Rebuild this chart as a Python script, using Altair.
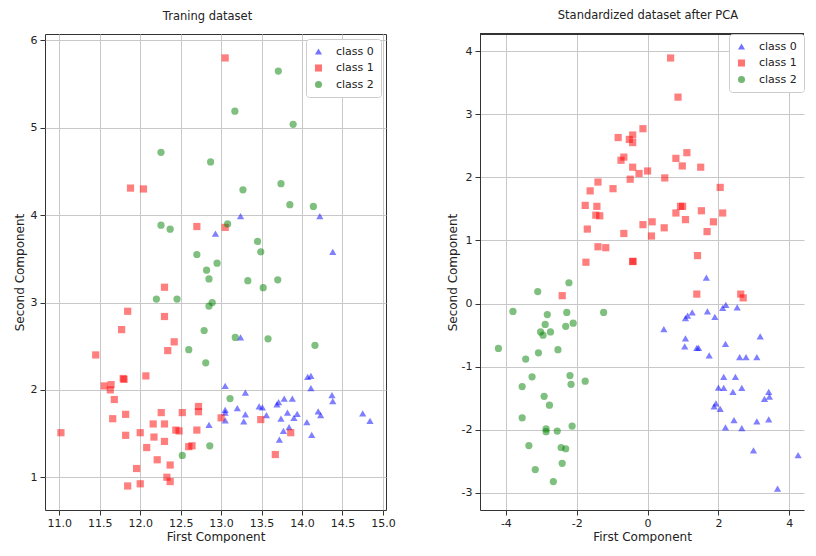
import altair as alt
import pandas as pd

classes = ["class 0", "class 1", "class 2"]
colors = ["#0000ff", "#ff0000", "#008000"]
shapes = ["triangle-up", "square", "circle"]

# ---- Training dataset (first two raw components) ----
train_c0_x = [12.93, 13.24, 14.22, 14.38, 13.24, 13.05, 13.05, 13.05, 13.05, 13.20, 12.85, 14.07, 14.11,
              14.11, 13.30, 14.37, 14.38, 13.78, 13.88, 13.69, 13.71, 13.47, 13.51, 13.30, 13.28, 13.56,
              13.74, 13.82, 13.94, 13.90, 14.20, 14.23, 14.06, 14.75, 14.84, 13.77, 13.84, 14.12, 13.72]
train_c0_y = [3.79, 3.99, 3.99, 3.58, 2.60, 2.045, 1.77, 1.74, 1.65, 1.79, 1.60, 2.15, 2.16,
              2.02, 1.97, 1.94, 1.87, 1.90, 1.90, 1.835, 1.86, 1.81, 1.80, 1.72, 1.64, 1.71,
              1.67, 1.74, 1.725, 1.68, 1.755, 1.71, 1.63, 1.73, 1.645, 1.53, 1.575, 1.485, 1.43]

train_c1_x = [13.05, 11.88, 12.04, 12.70, 13.05, 12.30, 11.845, 12.30, 11.77, 12.42, 12.34, 11.45, 12.07,
              11.79, 11.80, 11.556, 11.64, 11.63, 11.68, 12.72, 12.72, 12.52, 12.26, 11.66, 11.82, 12.16,
              12.30, 13.00, 12.44, 12.48, 12.70, 11.02, 11.82, 12.00, 12.17, 12.30, 12.08, 12.60, 12.64,
              12.21, 12.37, 11.955, 12.33, 12.37, 12.00, 11.845, 13.86, 13.49, 13.67]
train_c1_y = [5.80, 4.31, 4.30, 3.87, 3.86, 3.175, 2.90, 2.84, 2.69, 2.55, 2.45, 2.40, 2.16,
              2.13, 2.12, 2.045, 2.06, 2.00, 1.89, 1.81, 1.75, 1.74, 1.74, 1.67, 1.72, 1.61,
              1.61, 1.68, 1.54, 1.53, 1.54, 1.51, 1.48, 1.51, 1.46, 1.41, 1.34, 1.35, 1.36,
              1.20, 1.14, 1.10, 1.00, 0.95, 0.925, 0.90, 1.51, 1.66, 1.26]

train_c2_x = [13.17, 12.257, 12.87, 12.257, 12.37, 13.08, 12.70, 12.95, 12.82, 13.707, 13.89, 13.27,
              13.74, 13.85, 14.14, 13.45, 13.49, 12.85, 12.20, 12.455, 12.85, 12.89, 12.79, 13.175,
              12.60, 12.81, 13.11, 12.86, 12.52, 13.33, 13.70, 13.52, 13.58, 14.16]
train_c2_y = [5.19, 4.72, 4.61, 3.885, 3.84, 3.90, 3.55, 3.45, 3.37, 5.65, 5.04, 4.29,
              4.36, 4.12, 4.10, 3.70, 3.58, 3.27, 3.04, 3.04, 2.96, 3.00, 2.68, 2.60,
              2.46, 2.31, 1.90, 1.36, 1.25, 3.25, 3.26, 3.17, 2.585, 2.51]

# ---- Standardized dataset after PCA ----
pca_c0_x = [1.66, 2.21, 2.12, 2.53, 1.69, 1.26, 1.13, 1.07, 1.90, 0.46, 1.07, 1.05, 1.39, 1.44,
            2.20, 3.18, 1.74, 2.60, 2.78, 3.085, 2.15, 2.48, 2.00, 2.15, 2.41, 2.66, 3.42, 3.44,
            3.30, 1.93, 1.88, 2.05, 2.20, 2.44, 2.66, 3.085, 3.42, 2.99, 4.25, 3.67]
pca_c0_y = [0.41, -0.02, -0.07, -0.06, -0.125, -0.14, -0.19, -0.23, -0.21, -0.405, -0.55, -0.68, -0.70, -0.70,
            -0.64, -0.52, -0.82, -0.85, -0.85, -0.85, -1.16, -1.16, -1.33, -1.335, -1.40, -1.335, -1.40, -1.475,
            -1.51, -1.58, -1.63, -1.67, -1.96, -1.845, -1.975, -1.865, -1.835, -2.325, -2.40, -2.93]

pca_c1_x = [-0.83, -0.42, -0.515, -0.42, -0.13, -0.67, -0.75, -0.42, -0.24, -1.40, -0.49, -1.62, -0.975,
            -1.76, -1.43, -1.46, -1.35, -1.70, -0.67, -0.13, -1.40, -1.18, -1.74, -0.42, -0.41, 0.65,
            0.86, 0.80, 1.11, 0.98, 1.50, 0.00, 0.485, 2.05, 0.93, 0.99, 0.80, 1.52, 2.12, 1.07,
            1.86, 1.68, 0.13, 0.47, 0.11, 1.41, 1.39, 2.63, 2.70, -2.41]
pca_c1_y = [2.63, 2.67, 2.60, 2.55, 2.77, 2.32, 2.27, 2.16, 2.06, 1.925, 1.97, 1.785, 1.82,
            1.555, 1.54, 1.40, 1.39, 1.18, 1.11, 1.25, 0.90, 0.885, 0.655, 0.665, 0.67, 3.89,
            3.27, 2.30, 2.39, 2.18, 2.16, 2.10, 1.99, 1.84, 1.54, 1.54, 1.435, 1.47, 1.435, 1.33,
            1.295, 1.14, 1.295, 1.20, 1.07, 0.76, 0.15, 0.15, 0.09, 0.125]

pca_c2_x = [-2.22, -3.10, -3.80, -2.83, -2.28, -1.24, -2.89, -2.10, -2.31, -3.02, -2.95, -2.74, -4.21,
            -3.08, -2.53, -3.44, -3.26, -2.19, -2.16, -1.76, -3.54, -2.92, -2.77, -3.54, -2.13, -2.865,
            -2.865, -2.55, -3.35, -2.44, -2.31, -2.41, -3.17, -2.66]
pca_c2_y = [0.33, 0.19, -0.125, -0.175, -0.14, -0.14, -0.33, -0.31, -0.36, -0.45, -0.50, -0.45, -0.71,
            -0.78, -0.73, -0.88, -1.16, -1.14, -1.28, -1.23, -1.315, -1.47, -1.61, -1.81, -1.94, -1.985,
            -2.03, -2.02, -2.25, -2.28, -2.30, -2.53, -2.63, -2.82]

train_x_ticks = [11.0, 11.5, 12.0, 12.5, 13.0, 13.5, 14.0, 14.5, 15.0]
train_y_ticks = [1, 2, 3, 4, 5, 6]
pca_x_ticks = [-4, -2, 0, 2, 4]
pca_y_ticks = [-3, -2, -1, 0, 1, 2, 3, 4]


def make_frame(groups):
    rows = []
    for cls, xs, ys in groups:
        for xv, yv in zip(xs, ys):
            rows.append({"x": xv, "y": yv, "cls": cls})
    return pd.DataFrame(rows)


train_df = make_frame([
    ("class 0", train_c0_x, train_c0_y),
    ("class 1", train_c1_x, train_c1_y),
    ("class 2", train_c2_x, train_c2_y),
])
pca_df = make_frame([
    ("class 0", pca_c0_x, pca_c0_y),
    ("class 1", pca_c1_x, pca_c1_y),
    ("class 2", pca_c2_x, pca_c2_y),
])

FONT = "DejaVu Sans"
PLOT_H = 476
FRAME = "#333333"


def panel(df, title, title_dx, xdom, ydom, xticks, yticks, xlabel_expr, ylabel_expr, width,
          y_title_pad, legend_offset, open_right):
    legend = alt.Legend(
        title=None, orient="top-right", offset=legend_offset, fillColor="white", strokeColor="#cccccc",
        cornerRadius=3, padding=7, labelFont=FONT, labelFontSize=11, labelColor="#222222",
        symbolSize=50, symbolOpacity=0.55, rowPadding=4.5, labelOffset=12, symbolStrokeWidth=0,
    )
    points = alt.Chart(df).mark_point(filled=True, opacity=0.5, size=52, strokeWidth=0).encode(
        x=alt.X("x:Q", scale=alt.Scale(domain=xdom, nice=False, zero=False),
                axis=alt.Axis(title="First Component", values=xticks, labelExpr=xlabel_expr,
                              domain=open_right, domainColor=FRAME)),
        y=alt.Y("y:Q", scale=alt.Scale(domain=ydom, nice=False, zero=False),
                axis=alt.Axis(title="Second Component", values=yticks, labelExpr=ylabel_expr,
                              titlePadding=y_title_pad, domain=open_right, domainColor=FRAME)),
        color=alt.Color("cls:N", scale=alt.Scale(domain=classes, range=colors), legend=legend),
        shape=alt.Shape("cls:N", scale=alt.Scale(domain=classes, range=shapes), legend=legend),
    )
    ttl = alt.Title(title, font=FONT, fontSize=11.5, fontWeight="normal", color="#222222",
                    offset=12, dx=title_dx)
    if open_right:
        # top spine only; the panel continues past the right edge of the picture
        top = alt.Chart(df).mark_rule(color=FRAME, strokeWidth=1).encode(
            x=alt.value(0), x2=alt.value(width), y=alt.value(0)
        )
        return alt.layer(points, top, title=ttl).properties(
            width=width, height=PLOT_H, view=alt.ViewBackground(strokeOpacity=0))
    return points.properties(
        width=width, height=PLOT_H, title=ttl,
        view=alt.ViewBackground(stroke=FRAME, strokeWidth=1),
    )


left = panel(train_df, "Traning dataset", -8, [10.823, 15.038], [0.625, 6.074],
             train_x_ticks, train_y_ticks, "format(datum.value, '.1f')", "'' + datum.value", 341, 4,
             5, False)
right = panel(pca_df, "Standardized dataset after PCA", 6, [-4.73, 4.416], [-3.27, 4.27],
              pca_x_ticks, pca_y_ticks, "'' + datum.value", "'' + datum.value", 324, 2,
              0, True)

chart = alt.hconcat(left, right, spacing=50).resolve_scale(
    color="independent", shape="independent", x="independent", y="independent"
).resolve_legend(
    color="independent", shape="independent"
).properties(
    padding={"left": 4, "top": 2, "right": 0, "bottom": 0},
    background="white",
).configure_axis(
    grid=True, gridColor="#c8c8c8", gridWidth=1,
    tickColor=FRAME, tickSize=5, labelFont=FONT, labelFontSize=11, labelColor="#222222",
    titleFont=FONT, titleFontSize=12, titleFontWeight="normal", titleColor="#222222",
    labelFlush=False, labelPadding=3,
).configure_axisX(titlePadding=3, labelPadding=2)

chart.save("out.html", embed_options={"renderer": "svg", "actions": False})
